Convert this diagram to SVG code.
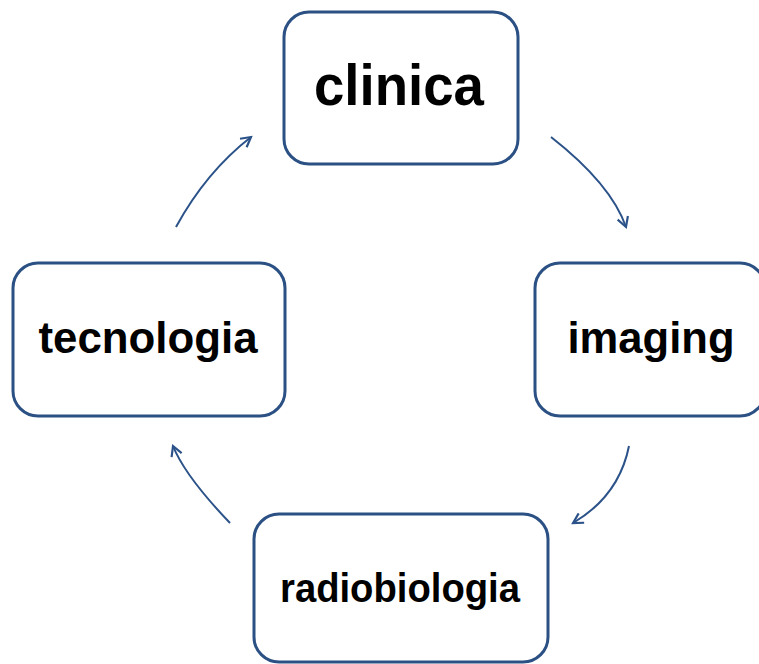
<svg xmlns="http://www.w3.org/2000/svg" width="759" height="664" viewBox="0 0 759 664">
<defs>
<style>
.box{fill:#fff;stroke:#2B5084;stroke-width:3}
.lbl{font-family:"Liberation Sans",Arial,sans-serif;font-weight:bold;fill:#000;text-anchor:middle}
.con{fill:none;stroke:#2B5289;stroke-width:2}
</style>
<marker id="ah" viewBox="0 0 12 12" refX="10" refY="6" markerWidth="13" markerHeight="13" markerUnits="userSpaceOnUse" orient="auto">
<path d="M1,1 L10,6 L1,11" fill="none" stroke="#2B5289" stroke-width="2"/>
</marker>
</defs>
<rect width="759" height="664" fill="#fff"/>
<g id="clinica">
<rect class="box" x="284" y="12" width="234" height="152" rx="25"/>
<text class="lbl" x="399" y="105" font-size="58" textLength="170" lengthAdjust="spacingAndGlyphs">clinica</text>
</g>
<g id="tecnologia">
<rect class="box" x="13" y="263" width="272" height="153" rx="25"/>
<text class="lbl" x="148" y="353" font-size="45" textLength="219" lengthAdjust="spacingAndGlyphs">tecnologia</text>
</g>
<g id="imaging">
<rect class="box" x="535" y="263" width="230" height="153" rx="25"/>
<text class="lbl" x="651" y="353" font-size="45" textLength="167" lengthAdjust="spacingAndGlyphs">imaging</text>
</g>
<g id="radiobiologia">
<rect class="box" x="254" y="514" width="294" height="148" rx="25"/>
<text class="lbl" x="400" y="602" font-size="41" textLength="240" lengthAdjust="spacingAndGlyphs">radiobiologia</text>
</g>
<g id="connectors">
<path class="con" d="M551,137 Q611,184 626,227" marker-end="url(#ah)"/>
<path class="con" d="M629,446 Q619,496 573,523" marker-end="url(#ah)"/>
<path class="con" d="M230,523 Q185,476 173,446" marker-end="url(#ah)"/>
<path class="con" d="M176,227 Q206,172 251,137" marker-end="url(#ah)"/>
</g>
</svg>
